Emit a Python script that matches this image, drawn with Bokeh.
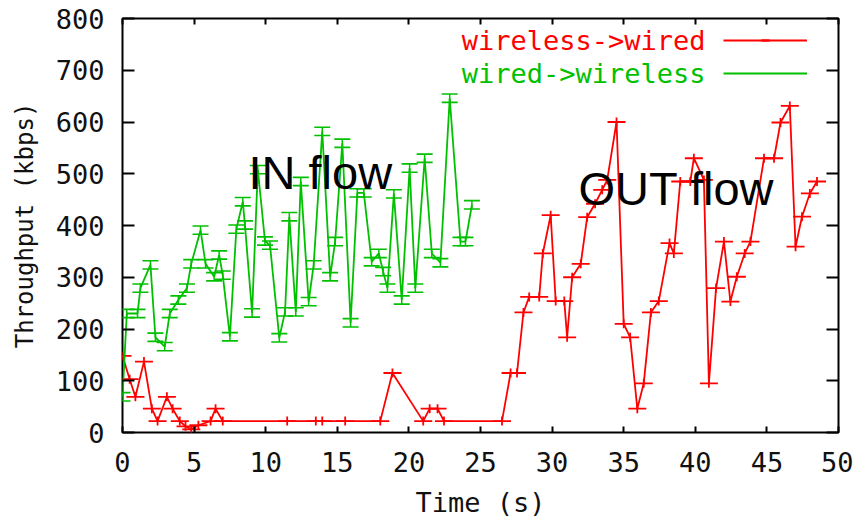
from math import pi
from bokeh.plotting import figure
from bokeh.models import (ColumnDataSource, Range1d, LinearAxis, FixedTicker, Label,
                          Legend, LegendItem, Whisker, TeeHead)
from bokeh.transform import dodge
from bokeh.embed import file_html
from bokeh.resources import INLINE

# ---------------- data ----------------
x_ticks = [0, 5, 10, 15, 20, 25, 30, 35, 40, 45, 50]
y_ticks = [0, 100, 200, 300, 400, 500, 600, 700, 800]

red_name = "wireless->wired"
red_t = [0, 0.5, 0.9, 1.5, 2.05, 2.45, 3.1, 3.5, 4.0, 4.4,
         4.8, 5.3, 6.15, 6.5, 7.0, 11.5, 13.5, 13.95, 15.55, 18.0,
         18.85, 21.0, 21.45, 22.0, 22.45, 26.5, 27.1, 27.55, 28.0, 28.4,
         29.1, 29.35, 29.9, 30.25, 30.85, 31.05, 31.4, 32.0, 32.45, 33.0,
         33.5, 33.85, 34.5, 35.0, 35.45, 35.95, 36.4, 36.9, 37.45, 38.2,
         38.5, 38.95, 39.65, 39.9, 40.6, 40.95, 41.45, 42.0, 42.45, 42.9,
         43.45, 43.85, 44.8, 45.5, 45.95, 46.6, 47.0, 47.45, 48.0, 48.5]
red_v = [148, 103, 69, 137, 46, 22, 69, 46, 22, 12,
         6, 14, 22, 46, 22, 22, 22, 22, 22, 22,
         115, 22, 46, 46, 22, 22, 115, 115, 232, 262,
         262, 346, 420, 254, 254, 184, 300, 326, 416, 442,
         469, 488, 600, 210, 184, 46, 95, 232, 254, 366,
         346, 485, 485, 530, 488, 95, 279, 369, 253, 301,
         346, 369, 530, 530, 599, 631, 359, 417, 462, 485]

green_name = "wired->wireless"
green_t = [0, 0.3, 1.05, 1.25, 1.95, 2.3, 2.95, 3.3, 3.9, 4.5,
           4.8, 5.45, 5.8, 6.4, 6.75, 7.0, 7.5, 7.95, 8.4, 8.55,
           9.05, 9.45, 9.95, 10.3, 10.95, 11.35, 11.65, 12.1, 12.45, 13.0,
           13.35, 13.95, 14.5, 14.85, 15.35, 15.93, 16.4, 16.85, 17.4, 17.9,
           18.2, 18.5, 18.95, 19.5, 20.05, 20.45, 21.1, 21.6, 22.2, 22.85,
           23.6, 23.95, 24.4]
green_v = [69, 230, 230, 279, 324, 184, 166, 230, 256, 279,
           326, 391, 326, 301, 343, 304, 185, 393, 446, 401,
           231, 508, 370, 362, 183, 233, 417, 233, 485, 253,
           324, 582, 301, 369, 559, 212, 463, 463, 330, 346,
           311, 279, 461, 256, 511, 279, 530, 346, 328, 646,
           369, 369, 440]

x_label = "Time (s)"
y_label = "Throughput (kbps)"
note_in = "IN flow"
note_out = "OUT flow"

# ---------------- style ----------------
RED = "#ff0000"
GREEN = "#00c000"
MONO = "DejaVu Sans Mono"
TXT = "#111111"

p = figure(width=853, height=527, output_backend="svg", toolbar_location=None,
           x_range=Range1d(0, 50), y_range=Range1d(0, 800),
           min_border_left=122, min_border_right=15, min_border_top=18,
           min_border_bottom=95)
p.background_fill_color = "white"
p.border_fill_color = "white"
p.outline_line_color = "black"
p.outline_line_width = 2
p.grid.grid_line_color = None

p.xaxis.ticker = FixedTicker(ticks=x_ticks)
p.yaxis.ticker = FixedTicker(ticks=y_ticks)
for ax in (p.xaxis[0], p.yaxis[0]):
    ax.axis_line_color = None
    ax.major_tick_out = 0
    ax.major_tick_line_width = 2
    ax.major_tick_line_color = "black"
    ax.minor_tick_line_color = None
    ax.major_label_text_font = MONO
    ax.major_label_text_font_size = "27px"
    ax.major_label_text_color = TXT
    ax.axis_label_text_font = MONO
    ax.axis_label_text_font_style = "normal"
    ax.axis_label_text_color = TXT
p.xaxis.major_tick_in = 6
p.yaxis.major_tick_in = 12
p.xaxis.major_label_standoff = 19
p.yaxis.major_label_standoff = 18
p.xaxis.axis_label = x_label
p.yaxis.axis_label = y_label
p.xaxis.axis_label_text_font_size = "27px"
p.yaxis.axis_label_text_font_size = "24px"
p.xaxis.axis_label_standoff = 12
p.yaxis.axis_label_standoff = 14

# mirrored ticks (no labels) on the right and top edges
right = LinearAxis(ticker=FixedTicker(ticks=y_ticks), major_label_text_font_size="1px",
                   major_label_text_color=None, major_label_standoff=0,
                   axis_line_color=None, major_tick_in=12, major_tick_out=0,
                   minor_tick_line_color=None, major_tick_line_width=2)
top = LinearAxis(ticker=FixedTicker(ticks=x_ticks), major_label_text_font_size="1px",
                 major_label_text_color=None, major_label_standoff=0,
                 axis_line_color=None, major_tick_in=6, major_tick_out=0,
                 minor_tick_line_color=None, major_tick_line_width=2)
p.add_layout(right, "right")
p.add_layout(top, "above")

rsrc = ColumnDataSource(dict(t=red_t, v=red_v))
gsrc = ColumnDataSource(dict(t=green_t, v=green_v))

r_line = p.line("t", "v", source=rsrc, line_color=RED, line_width=1.8)
r_h = p.scatter("t", "v", source=rsrc, marker="dash", size=18, line_color=RED, line_width=1.8)
r_v = p.scatter("t", "v", source=rsrc, marker="dash", angle=pi / 2, size=9,
                line_color=RED, line_width=1.8)

g_line = p.line("t", "v", source=gsrc, line_color=GREEN, line_width=1.8)
wh = Whisker(source=gsrc, base="t", upper=dodge("v", 8), lower=dodge("v", -8),
             dimension="height", line_color=GREEN, line_width=1.5,
             upper_head=TeeHead(size=16, line_color=GREEN, line_width=1.6),
             lower_head=TeeHead(size=16, line_color=GREEN, line_width=1.6))
p.add_layout(wh)

legend = Legend(items=[LegendItem(label=" ", renderers=[r_line, r_h, r_v]),
                       LegendItem(label=" ", renderers=[g_line])],
                location=(601, 349), glyph_width=84, glyph_height=20,
                label_width=0, label_height=20, label_standoff=0, padding=0, margin=0,
                spacing=13, border_line_color=None, background_fill_alpha=0,
                label_text_font_size="1px", label_text_color=None)
p.add_layout(legend)

p.add_layout(Label(x=583, y=392, x_units="screen", y_units="screen", text=red_name,
                   text_align="right", text_baseline="middle", text_color=RED,
                   text_font=MONO, text_font_size="27px"))
p.add_layout(Label(x=583, y=359, x_units="screen", y_units="screen", text=green_name,
                   text_align="right", text_baseline="middle", text_color=GREEN,
                   text_font=MONO, text_font_size="27px"))

p.add_layout(Label(x=126, y=260, x_units="screen", y_units="screen", text=note_in,
                   text_baseline="alphabetic", text_color="black",
                   text_font="Liberation Sans", text_font_size="47px"))
p.add_layout(Label(x=456, y=244, x_units="screen", y_units="screen", text=note_out,
                   text_baseline="alphabetic", text_color="black",
                   text_font="Liberation Sans", text_font_size="47px"))

open("out.html", "w").write(file_html(p, INLINE))
